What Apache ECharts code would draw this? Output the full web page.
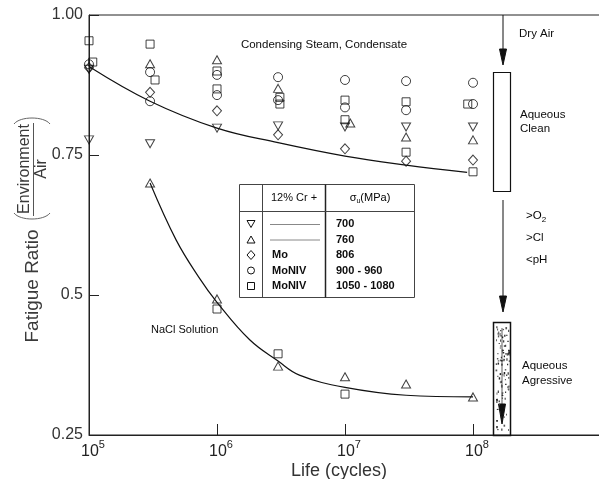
<!DOCTYPE html>
<html>
<head>
<meta charset="utf-8">
<script src="https://cdn.jsdelivr.net/npm/echarts/dist/echarts.min.js"></script>
<style>
  html, body { margin: 0; padding: 0; background: #fff; }
  #chart { width: 599px; height: 479px; }
</style>
</head>
<body>
<div id="chart"></div>
<script>
const FONT = '"Liberation Sans", Arial, Helvetica, sans-serif';

// Axis ticks
const yTickValues = [0.25, 0.5, 0.75, 1.0];
const yTickLabels = ['0.25', '0.5', '0.75', '1.00'];
const xLastDecade = 8;

// Fatigue ratio (environment / air) vs. life, grouped by ultimate tensile strength
const uts700 = [[1e5, 0.903], [1e5, 0.777], [3e5, 0.770], [1e6, 0.798], [3e6, 0.802],
                [1e7, 0.800], [3e7, 0.800], [1e8, 0.800]];
const uts760 = [[3e5, 0.913], [3e5, 0.700], [1e6, 0.920], [3e6, 0.869], [1.1e7, 0.807],
                [3e7, 0.782], [1e8, 0.777],
                [1e6, 0.493], [3e6, 0.373], [1e7, 0.354], [3e7, 0.341], [1e8, 0.318]];
const uts806 = [[1e5, 0.906], [3e5, 0.862], [1e6, 0.829], [3e6, 0.786], [1e7, 0.761],
                [3e7, 0.739], [1e8, 0.741]];
const uts900 = [[1e5, 0.912], [3e5, 0.898], [3e5, 0.846], [1e6, 0.893], [1e6, 0.857],
                [3e6, 0.889], [3e6, 0.848], [1e7, 0.884], [1e7, 0.835], [3e7, 0.882],
                [3e7, 0.830], [1e8, 0.879], [1e8, 0.841]];
const uts1050 = [[1e5, 0.954], [1.07e5, 0.916], [3e5, 0.948], [3.28e5, 0.884], [1e6, 0.900],
                 [1e6, 0.868], [3.1e6, 0.853], [3.1e6, 0.841], [1e7, 0.848], [1e7, 0.813],
                 [3e7, 0.845], [3e7, 0.755], [9.1e7, 0.841], [1e8, 0.720],
                 [1e6, 0.475], [3e6, 0.395], [1e7, 0.323]];

// Trend curves
const steamCurve = [[1e5, 0.908], [3e5, 0.846], [1e6, 0.798], [3e6, 0.772], [1e7, 0.748],
                    [3e7, 0.732], [9e7, 0.719]];
const naclCurve = [[3e5, 0.700], [4.8e5, 0.598], [7.2e5, 0.532], [1e6, 0.487], [1.8e6, 0.420],
                   [3e6, 0.382], [4.4e6, 0.357], [1e7, 0.335], [3e7, 0.321], [1e8, 0.318]];

// Legend table rows
const tableAlloy = ['', '', 'Mo', 'MoNIV', 'MoNIV'];
const tableUts = ['700', '760', '806', '900 - 960', '1050 - 1080'];

const hollow = { color: 'rgba(0,0,0,0)', borderColor: '#111', borderWidth: 1 };

function scatter(name, data, symbol, size, rotate) {
  return {
    name, type: 'scatter', data, symbol, symbolSize: size, symbolRotate: rotate || 0,
    itemStyle: hollow, z: 5, silent: true
  };
}
function curve(data) {
  return {
    type: 'line', data, smooth: 0.4, symbol: 'none', silent: true,
    lineStyle: { color: '#111', width: 1.2 }, z: 3
  };
}

const chart = echarts.init(document.getElementById('chart'), null, { renderer: 'canvas' });

// ---- decorative graphics: y title, legend table, environment arrows ----
const g = [];
const INK = '#0d0d0d';
const txt = (text, x, y, size, opts) => Object.assign({
  type: 'text', silent: true, z: 10,
  style: Object.assign({ text, x, y, font: (opts && opts.weight ? opts.weight + ' ' : '') + size + 'px ' + FONT,
    fill: INK, textAlign: 'left', textVerticalAlign: 'middle' }, opts && opts.style)
}, opts && opts.el);
const line = (x1, y1, x2, y2, w, c) => ({ type: 'line', silent: true, z: 10,
  shape: { x1, y1, x2, y2 }, style: { stroke: c || '#111', lineWidth: w || 1 } });
const poly = (pts, fill) => ({ type: 'polygon', silent: true, z: 10,
  shape: { points: pts }, style: { fill: fill || 'none', stroke: '#111', lineWidth: 1 } });
const vtext = (text, x, y, size) => ({ type: 'text', silent: true, x, y, rotation: Math.PI / 2,
  style: { text, x: 0, y: 0, font: size + 'px ' + FONT, fill: '#3a3a3a',
    textAlign: 'center', textVerticalAlign: 'middle' } });

// Y axis title: "Fatigue Ratio (Environment / Air)"
g.push(vtext('Fatigue Ratio', 33, 286, 19));
g.push(vtext('Environment', 25, 169, 16));
g.push(vtext('Air', 42, 169, 16));
g.push(line(33.5, 123, 33.5, 216, 1, '#555'));
g.push({ type: 'bezierCurve', silent: true, shape: { x1: 14, y1: 124, x2: 50, y2: 124, cpx1: 20, cpy1: 116, cpx2: 44, cpy2: 116 },
  style: { stroke: '#666', lineWidth: 1, fill: 'none' } });
g.push({ type: 'bezierCurve', silent: true, shape: { x1: 14, y1: 213, x2: 50, y2: 213, cpx1: 20, cpy1: 221, cpx2: 44, cpy2: 221 },
  style: { stroke: '#666', lineWidth: 1, fill: 'none' } });

// Region annotations
g.push(txt('Condensing Steam, Condensate', 324, 45, 11.5, { style: { textAlign: 'center' } }));
g.push(txt('NaCl Solution', 151, 330, 11));

// Legend table
const tL = 239.5, tR = 414.5, tT = 184.5, tB = 297.5, c1 = 262.5, c2 = 325.5, hY = 211.5;
g.push({ type: 'rect', silent: true, z: 9, shape: { x: tL, y: tT, width: tR - tL, height: tB - tT },
  style: { fill: '#fff', stroke: '#444', lineWidth: 1 } });
g.push(line(c1, tT, c1, tB, 1, '#444'));
g.push(line(c2, tT, c2, tB, 1.5, '#222'));
g.push(line(tL, hY, tR, hY, 1, '#444'));
g.push(txt('12% Cr +', (c1 + c2) / 2, 198, 11, { style: { textAlign: 'center' } }));
g.push({ type: 'text', silent: true, z: 10, style: {
  text: '{a|σ}{u|u}{a|(MPa)}', x: (c2 + tR) / 2, y: 198, textAlign: 'center', textVerticalAlign: 'middle',
  rich: { a: { fontSize: 11, fontFamily: FONT, color: INK },
          u: { fontSize: 7, fontFamily: FONT, color: INK, padding: [6, 0, 0, 0] } } } });
const rowY = [224, 239.5, 255, 270.5, 286];
const sx = 251;
g.push(poly([[sx - 4, rowY[0] - 3.5], [sx + 4, rowY[0] - 3.5], [sx, rowY[0] + 3.5]]));
g.push(poly([[sx - 4, rowY[1] + 3.5], [sx + 4, rowY[1] + 3.5], [sx, rowY[1] - 3.5]]));
g.push(poly([[sx, rowY[2] - 4.5], [sx + 4, rowY[2]], [sx, rowY[2] + 4.5], [sx - 4, rowY[2]]]));
g.push({ type: 'circle', silent: true, z: 10, shape: { cx: sx, cy: rowY[3], r: 3.5 },
  style: { fill: 'none', stroke: '#111', lineWidth: 1 } });
g.push({ type: 'rect', silent: true, z: 10, shape: { x: sx - 3.5, y: rowY[4] - 3.5, width: 7, height: 7 },
  style: { fill: 'none', stroke: '#111', lineWidth: 1 } });
tableAlloy.forEach((a, i) => {
  if (a) g.push(txt(a, 272, rowY[i], 11, { weight: 'bold' }));
  else g.push(line(270, rowY[i] + 0.5, 320, rowY[i] + 0.5, 1, '#888'));
});
tableUts.forEach((u, i) => g.push(txt(u, 336, rowY[i], 11, { weight: 'bold' })));

// Environment severity column on the right
const ax = 503;
g.push(line(ax, 15, ax, 52, 1, '#111'));
g.push(poly([[ax - 3.5, 49], [ax + 3.5, 49], [ax, 65]], '#111'));
g.push({ type: 'rect', silent: true, z: 10, shape: { x: 493.5, y: 72.5, width: 17, height: 119 },
  style: { fill: 'none', stroke: '#111', lineWidth: 1.2 } });
g.push(line(ax, 200, ax, 300, 1, '#111'));
g.push(poly([[ax - 3.5, 296], [ax + 3.5, 296], [ax, 312]], '#111'));
g.push({ type: 'rect', silent: true, z: 10, shape: { x: 493.5, y: 322.5, width: 17, height: 113 },
  style: { fill: 'none', stroke: '#111', lineWidth: 1.5 } });
// speckled fill of the aggressive box, thinning out towards the bottom
let seed = 12345;
const nextRand = () => { seed = (seed * 16807) % 2147483647; return seed / 2147483647; };
for (let i = 0; i < 95; i++) {
  const px = 495.5 + nextRand() * 13.5;
  const py = 326 + Math.pow(nextRand(), 1.25) * 104;
  g.push({ type: 'rect', silent: true, z: 11,
    shape: { x: px, y: py, width: 0.8 + nextRand() * 1.0, height: 1 + nextRand() * 1.6 },
    style: { fill: nextRand() < 0.5 ? '#222' : '#555' } });
}
g.push(line(502, 328, 502, 410, 0.8, '#333'));
g.push(poly([[498.5, 404], [505.5, 404], [502, 424]], '#111'));

g.push(txt('Dry Air', 519, 34, 11.5));
g.push(txt('Aqueous', 520, 115, 11.5));
g.push(txt('Clean', 520, 129, 11.5));
g.push({ type: 'text', silent: true, style: { text: '{a|>O}{s|2}', x: 526, y: 216, textVerticalAlign: 'middle',
  rich: { a: { fontSize: 11.5, fontFamily: FONT, color: INK }, s: { fontSize: 8, fontFamily: FONT, color: INK, padding: [7, 0, 0, 0] } } } });
g.push(txt('>Cl', 526, 238, 11.5));
g.push(txt('<pH', 526, 260, 11.5));
g.push(txt('Aqueous', 522, 366, 11.5));
g.push(txt('Agressive', 522, 381, 11.5));

const option = {
  animation: false,
  backgroundColor: '#fff',
  grid: { left: 89, top: 15, right: -2, bottom: 44, outerBoundsMode: 'none', containLabel: false,
          show: true, borderColor: '#222', borderWidth: 1, backgroundColor: 'transparent' },
  xAxis: {
    type: 'log', logBase: 10, min: 1e5, max: 1e9,
    name: 'Life (cycles)', nameLocation: 'middle', nameGap: 27, nameMoveOverlap: false,
    nameTextStyle: { fontSize: 18, fontFamily: FONT, color: '#333', padding: [0, 12, 0, 0] },
    axisLine: { lineStyle: { color: '#222', width: 1 } },
    axisTick: { inside: true, length: 11, lineStyle: { color: '#222' } },
    splitLine: { show: false },
    axisLabel: {
      margin: 4, padding: [0, 0, 0, 8],
      formatter: v => {
        const e = Math.round(Math.log10(v));
        return e > xLastDecade ? '' : '{b|10}{s|' + e + '}';
      },
      rich: {
        b: { fontSize: 16, fontFamily: FONT, color: '#222', lineHeight: 21, verticalAlign: 'bottom' },
        s: { fontSize: 11, fontFamily: FONT, color: '#222', lineHeight: 12, verticalAlign: 'top' }
      }
    }
  },
  yAxis: {
    type: 'value', min: 0.25, max: 1.0, interval: 0.25,
    axisLine: { show: true, lineStyle: { color: '#222', width: 1 } },
    axisTick: { show: true, inside: true, length: 10, lineStyle: { color: '#222' } },
    splitLine: { show: false },
    axisLabel: {
      margin: 6, fontSize: 16, fontFamily: FONT, color: '#333',
      formatter: v => {
        const i = yTickValues.findIndex(t => Math.abs(t - v) < 1e-6);
        return i >= 0 ? yTickLabels[i] : '';
      }
    }
  },
  series: [
    curve(steamCurve),
    curve(naclCurve),
    scatter('700', uts700, 'triangle', [9, 8], 180),
    scatter('760', uts760, 'triangle', [9, 8], 0),
    scatter('806', uts806, 'diamond', [9, 10], 0),
    scatter('900 - 960', uts900, 'circle', 9, 0),
    scatter('1050 - 1080', uts1050, 'rect', 8, 0)
  ],
  graphic: g
};
chart.setOption(option);
</script>
</body>
</html>
